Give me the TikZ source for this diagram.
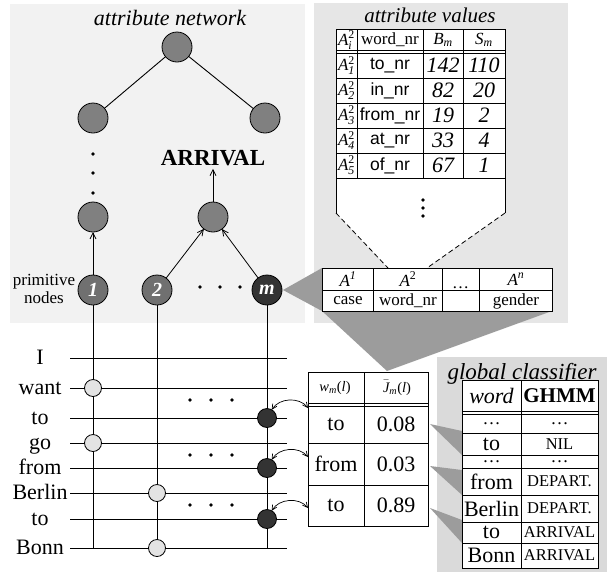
\documentclass[tikz,border=0pt]{standalone}
\usepackage{amsmath}
\usepackage{fontspec}
\setmainfont{Liberation Serif}
\setsansfont{Liberation Sans}
\usetikzlibrary{arrows.meta}

\definecolor{panelnet}{HTML}{F2F2F2}
\definecolor{panelval}{HTML}{E6E6E6}
\definecolor{panelglob}{HTML}{DADADA}
\definecolor{wedgegray}{HTML}{9C9C9C}
\definecolor{treegray}{HTML}{808080}
\definecolor{primgray}{HTML}{707070}
\definecolor{nodedark}{HTML}{333333}
\definecolor{nodelight}{HTML}{E3E3E3}

\newcommand{\fsz}[1]{\fontsize{#1}{#1}\selectfont}
\newcommand{\Aik}[1]{$\textit{A}_{\textit{#1}}^{\textup{2}}$}

\begin{document}
\begin{tikzpicture}[x=1pt,y=-1pt,
  every node/.style={inner sep=0pt, outer sep=0pt},
  tnode/.style={circle, draw, line width=0.8pt, fill=treegray, minimum size=30pt},
  pnode/.style={circle, draw, line width=0.8pt, fill=primgray, minimum size=30pt,
                text=white, font=\fsz{20}\bfseries\itshape},
  mnode/.style={pnode, fill=nodedark},
  lnode/.style={circle, draw, line width=0.8pt, fill=nodelight, minimum size=17pt},
  dnode/.style={circle, draw, line width=0.8pt, fill=nodedark, minimum size=19pt},
  smalldot/.style={circle, fill=black, minimum size=3.6pt},
  wire/.style={line width=0.9pt},
  arr/.style={line width=0.8pt, -{Straight Barb[length=6pt,width=6pt]}},
  dblarr/.style={line width=0.7pt, {Straight Barb[length=5pt,width=5pt]}-{Straight Barb[length=5pt,width=5pt]}},
  tbl/.style={line width=0.8pt},
  word/.style={font=\fsz{22}},
  cell/.style={font=\fsz{22}},
  smallcell/.style={font=\fsz{17}},
  capcell/.style={font=\fsz{16.5}},
  title/.style={font=\fsz{22}\itshape}
]
\useasboundingbox (0,0) rectangle (607,574);

% ---------- background panels ----------
\fill[panelnet] (10,4) rectangle (305,323);
\fill[panelval] (314,3) rectangle (568,323);
\fill[panelglob] (437,357) rectangle (607,572);

% ---------- attribute network ----------
\node[title] (titlenet) at (170,18) {attribute network};
\node[tnode] (root) at (177,47) {};
\node[tnode] (l2a) at (93,118) {};
\node[tnode] (l2b) at (265,118) {};
\node[tnode] (l3a) at (93,217) {};
\node[tnode] (l3b) at (213,217) {};
\node[font=\fsz{23}\bfseries] (arrival) at (213,158) {ARRIVAL};
\draw[wire] (root) -- (l2a);
\draw[wire] (root) -- (l2b);
\foreach \y in {154,173,193} \node[smalldot] at (93,\y) {};

\node[pnode] (p1) at (93,290) {1};
\node[pnode] (p2) at (157,290) {2};
\node[mnode] (pm) at (267,290) {m};
\foreach \x in {200,220,240} \node[smalldot] at (\x,287) {};
\node[font=\fontsize{17}{18}\selectfont, align=center] (primlbl) at (44,289) {primitive\\nodes};

\draw[arr] (p1) -- (l3a);
\draw[arr] (p2) -- (l3b);
\draw[arr] (pm) -- (l3b);
\draw[arr, shorten >=3pt] (l3b) -- (arrival);

% ---------- wedges ----------
\coordinate (atl) at (322,268);
\coordinate (abl) at (322,311);
\coordinate (abr) at (552,311);
\coordinate (mtop) at (387,371);
\fill[wedgegray] ([xshift=1pt]pm.east) -- (atl) -- (abl) -- cycle;
\fill[wedgegray] (abl) -- (abr) -- (mtop) -- cycle;

% ---------- attribute values table ----------
\node[title, font=\fsz{21}\itshape] (titleval) at (430,15) {attribute values};
\fill[white] (336,29) -- (505,29) -- (505,213) -- (427,268) -- (388,268) -- (336,213) -- cycle;
\draw[tbl] (336,213) -- (336,29) -- (505,29) -- (505,213);
\draw[tbl, dashed, dash pattern=on 5pt off 3pt] (336,213) -- (388,268);
\draw[tbl, dashed, dash pattern=on 5pt off 3pt] (505,213) -- (427,268);
\foreach \x in {357,423,463} \draw[tbl] (\x,29) -- (\x,178);
\foreach \y in {50,53,78,103,128,153,178} \draw[tbl] (336,\y) -- (505,\y);
\foreach \y in {200,208,216} \node[smalldot] at (423,\y) {};

\node[font=\fsz{17}] (hA) at (346.5,40) {$\textit{A}_{\textit{i}}^{\textup{2}}$};
\node[smallcell] (hw) at (390,40) {word\_nr};
\node[font=\fsz{17}] (hB) at (443,40) {$\textit{B}_{\textit{m}}$};
\node[font=\fsz{17}] (hS) at (484,40) {$\textit{S}_{\textit{m}}$};
\foreach \k/\w/\b/\s [count=\r from 0] in {1/to/142/110, 2/in/82/20, 3/from/19/2, 4/at/33/4, 5/of/67/1} {
  \node[font=\fsz{17}] at (346.5,65.5+25*\r) {\Aik{\k}};
  \node[font=\fsz{17.5}\sffamily] at (390,65.5+25*\r) {\w\_nr};
  \node[font=\fsz{22}\itshape] at (443,65.5+25*\r) {\b};
  \node[font=\fsz{22}\itshape] at (484,65.5+25*\r) {\s};
}

% ---------- attribute vector ----------
\fill[white] (atl) rectangle (abr);
\draw[tbl] (atl) rectangle (abr);
\foreach \x in {373,442,479} \draw[tbl] (\x,268) -- (\x,311);
\draw[tbl] (322,290) -- (552,290);
\node[smallcell] at (348,279) {$\textit{A}^{\textit{1}}$};
\node[smallcell] at (408,279) {$\textit{A}^{\textup{2}}$};
\node[smallcell] at (516,279) {$\textit{A}^{\textit{n}}$};
\node[font=\fsz{17}, fill=white, inner xsep=0.5pt, inner ysep=1pt] at (460.5,288) {\dots};
\node[smallcell] at (348,301) {case};
\node[smallcell] at (408,301) {word\_nr};
\node[smallcell] at (516,301) {gender};

% ---------- sentence lattice ----------
\coordinate (v1) at (93,548);
\coordinate (v2) at (157,548);
\coordinate (vm) at (267,548);
\draw[wire] (p1) -- (v1);
\draw[wire] (p2) -- (v2);
\draw[wire] (pm) -- (vm);
\foreach \nm/\y/\lbl in {I/358/I, want/388/want, toA/418/to, go/443/go, from/468/from,
                         Berlin/493/Berlin, toB/519/to, Bonn/548/Bonn} {
  \coordinate (wl-\nm) at (70,\y);
  \coordinate (wr-\nm) at (287,\y);
  \node[word, anchor=base] (lbl-\nm) at (40,\y+6) {\lbl};
  \draw[wire] (wl-\nm) -- (wr-\nm);
}
\node[lnode] (c-want) at (93,388) {};
\node[lnode] (c-go) at (93,443) {};
\node[lnode] (c-berlin) at (157,493) {};
\node[lnode] (c-bonn) at (157,548) {};
\node[dnode] (d1) at (267,418) {};
\node[dnode] (d2) at (267,468) {};
\node[dnode] (d3) at (267,519) {};
\foreach \y in {400,455,505}
  \foreach \x in {190,211,232} \node[smalldot] at (\x,\y) {};

% ---------- local values table ----------
\fill[white] (308,372) rectangle (428,526);
\draw[tbl] (308,372) rectangle (428,526);
\draw[tbl] (364,372) -- (364,526);
\foreach \y in {403,406,443,485} \draw[tbl] (308,\y) -- (428,\y);
\node[font=\fsz{14.5}] (hw2) at (335,388) {$\textit{w}_{\textit{m}}$(\textit{l})};
\node[font=\fsz{14.5}] (hj2) at (397,388) {$\bar{\textit{J}}_{\textit{m}}$(\textit{l})};
\node[cell] (t1w) at (336,424.5) {to};
\node[cell] (t1v) at (396,424.5) {0.08};
\node[cell] (t2w) at (336,464) {from};
\node[cell] (t2v) at (396,464) {0.03};
\node[cell] (t3w) at (336,505.5) {to};
\node[cell] (t3v) at (396,505.5) {0.89};
\coordinate (e1) at (308,408);
\coordinate (e2) at (308,457);
\coordinate (e3) at (308,508);
\draw[dblarr] (d1.60) to[bend left=55] (e1);
\draw[dblarr] (d2.60) to[bend left=55] (e2);
\draw[dblarr] (d3.60) to[bend left=55] (e3);

% ---------- global classifier ----------
\foreach \yt/\ya/\yb in {424/431/455, 466/470/495, 508/520/543}
  \fill[wedgegray] (430,\yt) -- (462,\ya) -- (462,\yb) -- cycle;
\node[title, font=\fsz{23}\itshape] (titleglob) at (522,374) {global classifier};
\fill[white] (462,380) rectangle (598,568);
\draw[tbl] (462,380) rectangle (598,568);
\draw[tbl] (521,380) -- (521,568);
\foreach \y in {411,414,433,455,468,495,522,543} \draw[tbl] (462,\y) -- (598,\y);
\node[font=\fsz{22}\itshape] at (491.5,396) {word};
\node[font=\fsz{21}\bfseries] at (559.5,396) {GHMM};
\node[font=\fsz{18}] at (491.5,424) {\dots};
\node[font=\fsz{18}] at (559.5,424) {\dots};
\node[cell] at (491.5,444) {to};
\node[capcell] at (559.5,444) {NIL};
\node[font=\fsz{18}] at (491.5,462) {\dots};
\node[font=\fsz{18}] at (559.5,462) {\dots};
\node[cell] at (491.5,481.5) {from};
\node[capcell] at (559.5,481.5) {DEPART.};
\node[cell] at (491.5,508.5) {Berlin};
\node[capcell] at (559.5,508.5) {DEPART.};
\node[cell] at (491.5,532.5) {to};
\node[capcell] at (559.5,532.5) {ARRIVAL};
\node[cell] at (491.5,555.5) {Bonn};
\node[capcell] at (559.5,555.5) {ARRIVAL};
\end{tikzpicture}
\end{document}
